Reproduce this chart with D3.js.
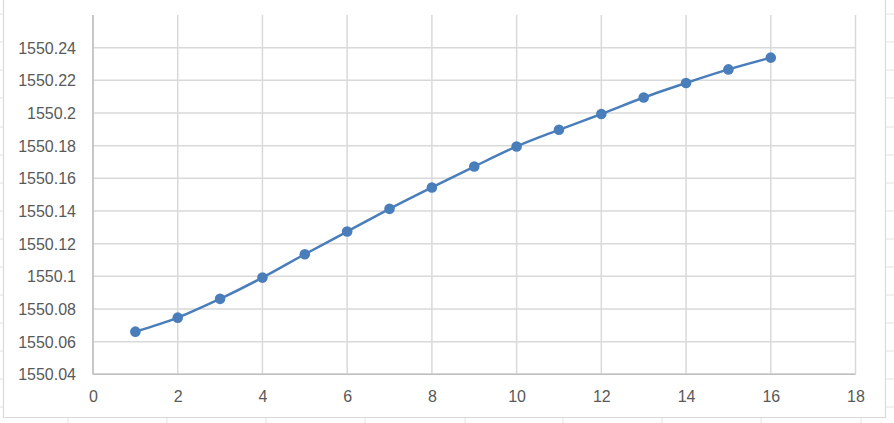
<!DOCTYPE html>
<html><head><meta charset="utf-8">
<script src="https://cdn.jsdelivr.net/npm/d3@7"></script>
<style>body{margin:0;background:#fff}svg{display:block}</style>
</head><body>
<svg id="c" width="894" height="423"></svg>
<script>
const xValues = [1,2,3,4,5,6,7,8,9,10,11,12,13,14,15,16];
const yValues = [1550.0661,1550.0747,1550.0862,1550.0992,1550.1135,1550.1274,1550.1413,1550.1544,
                 1550.1672,1550.1795,1550.1897,1550.1994,1550.2095,1550.2184,1550.2267,1550.2339];
const xTicks = [0,2,4,6,8,10,12,14,16,18];
const yTicks = [1550.04,1550.06,1550.08,1550.1,1550.12,1550.14,1550.16,1550.18,1550.2,1550.22,1550.24];
const yTickLabels = ["1550.04","1550.06","1550.08","1550.1","1550.12","1550.14","1550.16","1550.18","1550.2","1550.22","1550.24"];

const svg = d3.select("#c");
const L = 93, R = 855.5, T = 15, B = 374.3;
const x = d3.scaleLinear().domain([0,18]).range([L,R]);
const y = d3.scaleLinear().domain([1550.04,1550.26]).range([B,T]);

// spreadsheet cell gridlines outside the chart frame
const cellRows = [14,42,70,98,127,155,183,211,239,267,295,323,351,379,407];
const cellCols = [68,167,266,365,465,563,662,761,861];
const bg = svg.append("g").attr("stroke","#e3e3e3").attr("stroke-width",1);
cellRows.forEach(r=>{
  bg.append("line").attr("x1",0).attr("x2",3).attr("y1",r).attr("y2",r);
  bg.append("line").attr("x1",886).attr("x2",894).attr("y1",r).attr("y2",r);
});
cellCols.forEach(c=>{
  bg.append("line").attr("x1",c).attr("x2",c).attr("y1",418).attr("y2",423);
});
// chart frame
svg.append("path").attr("d","M3.5,0 V417.5 H885.5 V0").attr("fill","none")
  .attr("stroke","#d9d9d9").attr("stroke-width",1.2);

// gridlines
const grid = svg.append("g").attr("stroke","#d9d9d9").attr("stroke-width",1.5);
yTicks.forEach(v=>{
  grid.append("line").attr("x1",L).attr("x2",R).attr("y1",y(v)).attr("y2",y(v));
});
xTicks.forEach(v=>{
  grid.append("line").attr("x1",x(v)).attr("x2",x(v)).attr("y1",T).attr("y2",B);
});
// axes lines
svg.append("line").attr("x1",L).attr("x2",L).attr("y1",T).attr("y2",B)
  .attr("stroke","#bfbfbf").attr("stroke-width",1.5);
svg.append("line").attr("x1",L).attr("x2",R).attr("y1",B).attr("y2",B)
  .attr("stroke","#bfbfbf").attr("stroke-width",1.5);

// axes via d3 (labels only)
const yAxis = d3.axisLeft(y).tickValues(yTicks).tickSize(0).tickPadding(0)
  .tickFormat((d,i)=>yTickLabels[i]);
const gy = svg.append("g").attr("transform","translate(76,0)").call(yAxis);
gy.select(".domain").remove();
gy.selectAll("text").attr("font-family","'Liberation Sans', Arial, sans-serif")
  .attr("font-size","16px").attr("fill","#595959").attr("dy","0.35em");

const xAxis = d3.axisBottom(x).tickValues(xTicks).tickSize(0).tickPadding(0)
  .tickFormat(d3.format("d"));
const gx = svg.append("g").attr("transform","translate(0,388)").call(xAxis);
gx.select(".domain").remove();
gx.selectAll("text").attr("font-family","'Liberation Sans', Arial, sans-serif")
  .attr("font-size","16px").attr("fill","#595959").attr("dy","0.9em");

const pts = xValues.map((v,i)=>[v,yValues[i]]);
const line = d3.line().x(d=>x(d[0])).y(d=>y(d[1])).curve(d3.curveCatmullRom.alpha(0.5));
const color = "#4a7ebb";
svg.append("path").datum(pts).attr("d",line).attr("fill","none")
  .attr("stroke",color).attr("stroke-width",2.5);
svg.append("g").selectAll("circle").data(pts).join("circle")
  .attr("cx",d=>x(d[0])).attr("cy",d=>y(d[1])).attr("r",5.3).attr("fill",color);
</script>
</body></html>
